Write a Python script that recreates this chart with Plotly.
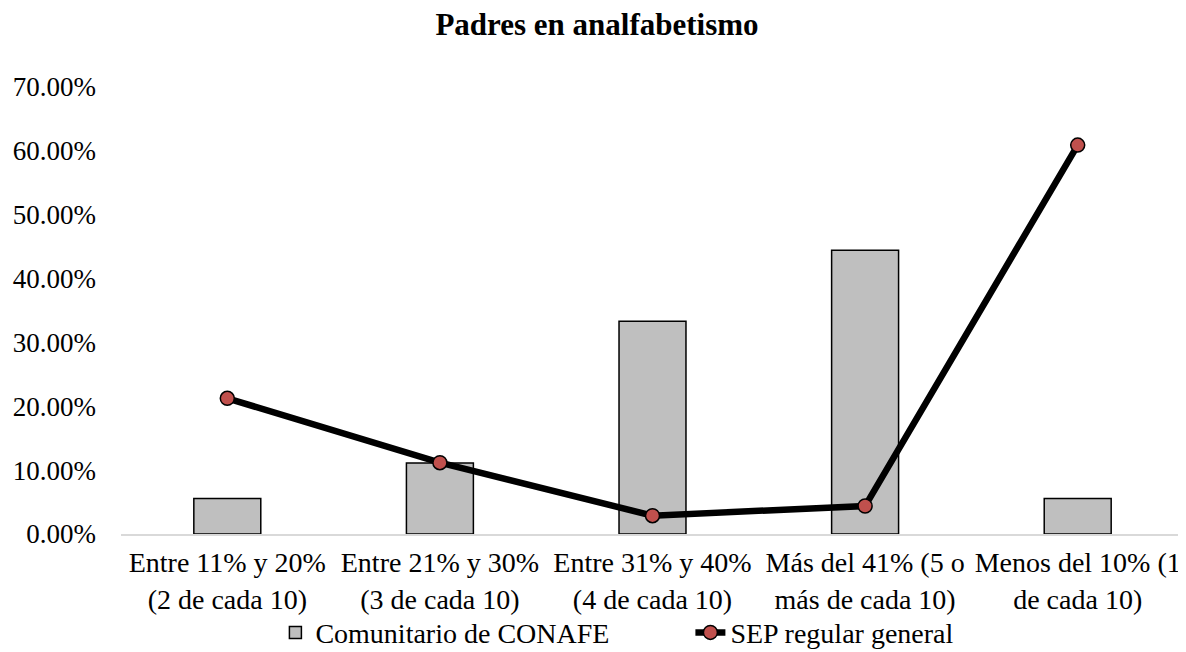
import plotly.graph_objects as go

categories = [
    "Entre 11% y 20%<br>(2 de cada 10)",
    "Entre 21% y 30%<br>(3 de cada 10)",
    "Entre 31% y 40%<br>(4 de cada 10)",
    "Más del 41% (5 o<br>más de cada 10)",
    "Menos del 10% (1<br>de cada 10)",
]
conafe = [5.56, 11.11, 33.33, 44.44, 5.56]
sep = [21.25, 11.17, 2.87, 4.38, 60.9]
y_ticks = [0, 10, 20, 30, 40, 50, 60, 70]
y_tick_text = [f"{v:.2f}%" for v in y_ticks]

font_family = "Liberation Serif"

fig = go.Figure()
fig.add_trace(go.Bar(
    x=categories, y=conafe, name="Comunitario de CONAFE",
    marker=dict(color="#bfbfbf", line=dict(color="black", width=1.5)),
))
fig.add_trace(go.Scatter(
    x=categories, y=sep, name="SEP regular general", mode="lines+markers",
    line=dict(color="black", width=6.5),
    marker=dict(color="#c0504d", size=14, line=dict(color="black", width=1.5)),
))

# The page body has an 8px margin, so the figure is sized to fit the window.
fig.update_layout(
    width=1178, height=644,
    paper_bgcolor="white", plot_bgcolor="white",
    font=dict(family=font_family, size=28, color="black"),
    title=dict(text="<b>Padres en analfabetismo</b>", x=0.5, xanchor="center",
               y=0.975, yanchor="middle", font=dict(size=31)),
    margin=dict(l=113, r=2, t=79, b=118),
    bargap=0.685,
    showlegend=True,
    legend=dict(orientation="h", x=0.227, xanchor="left", xref="container",
                y=0.03, yanchor="middle", yref="container",
                bgcolor="rgba(0,0,0,0)", entrywidth=370, entrywidthmode="pixels",
                font=dict(size=28), tracegroupgap=0),
)
fig.update_xaxes(showgrid=False, showline=True, linecolor="#d9d9d9", linewidth=1.5,
                 ticks="", tickangle=0, automargin=False, ticklabelstandoff=3)
fig.update_yaxes(range=[0, 70], tickvals=y_ticks, ticktext=y_tick_text,
                 showgrid=False, zeroline=False, showline=False, ticks="",
                 ticklabelstandoff=24, tickfont=dict(size=27), automargin=False)

fig.write_html("out.html")
